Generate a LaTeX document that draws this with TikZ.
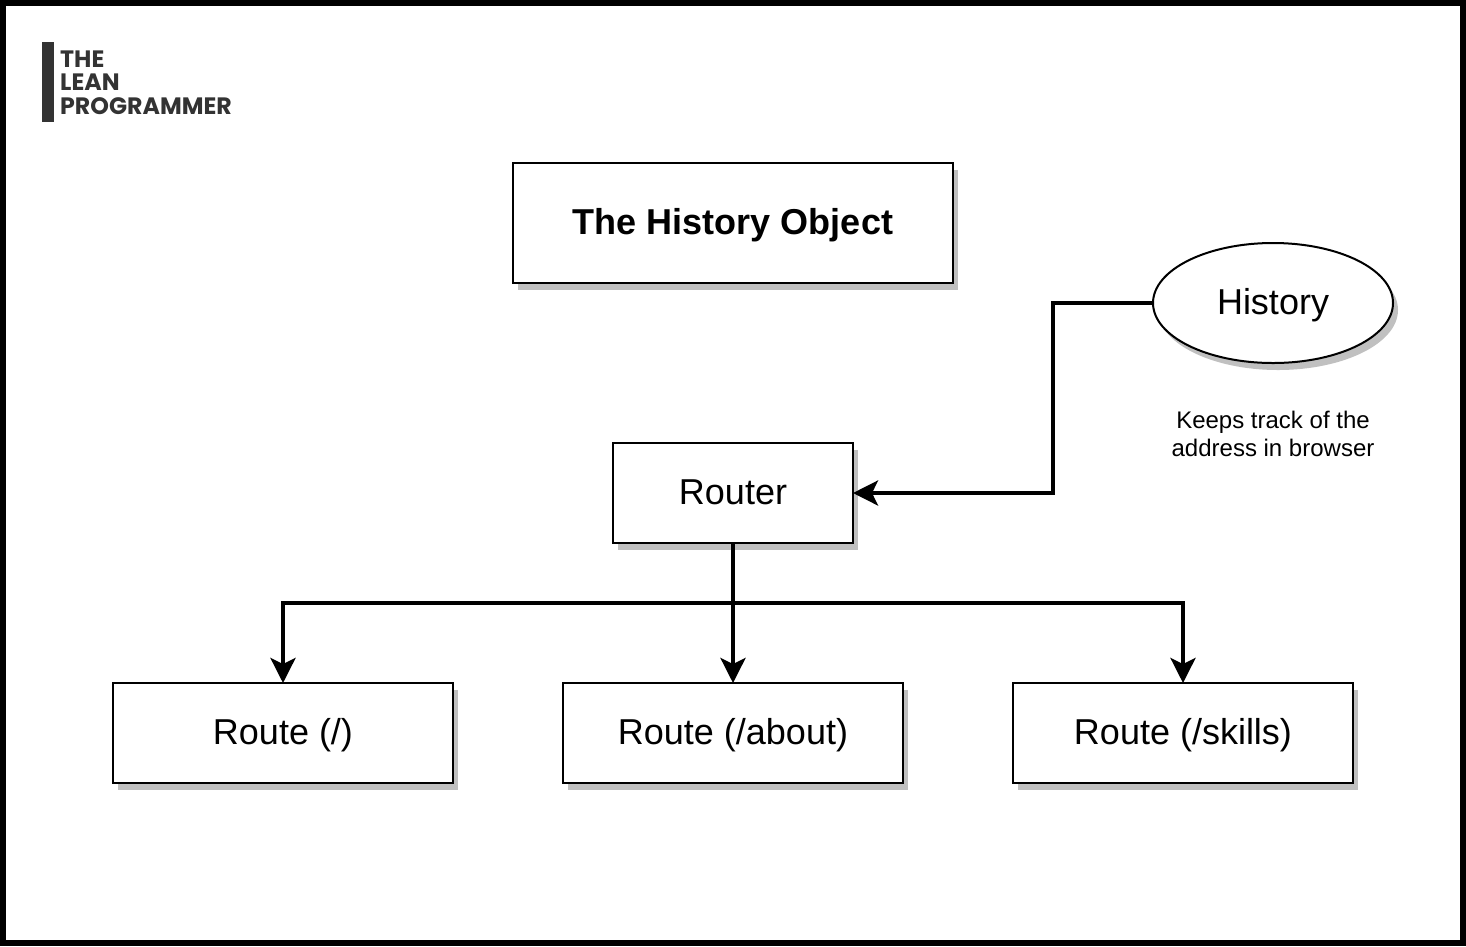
\documentclass[tikz,border=0pt]{standalone}
\usepackage{fontspec}
\setmainfont{Liberation Sans}
\newfontfamily\logofont{Poppins}
\usetikzlibrary{arrows.meta,shadows,shapes.geometric}

\tikzset{
  shade box/.style={draw=black,fill=white,line width=2pt,inner sep=0pt,outer sep=0pt,
    drop shadow={shadow xshift=5pt,shadow yshift=-7pt,fill=shadowgray,opacity=1}},
  big text/.style={font=\fontsize{36}{42}\selectfont,text height=27pt,text depth=5pt},
  link/.style={line width=4pt,-{Stealth[length=25pt,width=25pt,inset=6pt]}}
}
\definecolor{shadowgray}{HTML}{C0C0C0}
\definecolor{logogray}{HTML}{333333}

\begin{document}
\begin{tikzpicture}
    [x=1pt,y=-1pt]
    \useasboundingbox (0,0) rectangle (1466,946);
    \fill[black] (0,0) rectangle (1466,946);
    \fill[white] (6,6) rectangle (1460,940);

    % logo
    \fill[logogray] (42,42) rectangle (54,122);
    \node[anchor=west,inner sep=0pt,align=left,text=logogray,
          font=\logofont\bfseries\fontsize{23.7}{23.7}\selectfont] (logo) at (60,82.5)
          {THE\\LEAN\\PROGRAMMER};

    \node[shade box,big text,minimum width=440pt,minimum height=120pt] (title) at (733,223)
          {\textbf{The History Object}};
    \node[shade box,big text,ellipse,minimum width=240pt,minimum height=120pt] (history) at (1273,303) {History};
    \node[inner sep=0pt,align=center,font=\fontsize{24}{28}\selectfont] (note) at (1273,434)
          {Keeps track of the\\address in browser};
    \node[shade box,big text,minimum width=240pt,minimum height=100pt] (router) at (733,493) {Router};

    \node[shade box,big text,minimum width=340pt,minimum height=100pt] (r1) at (283,733) {Route (/)};
    \node[shade box,big text,minimum width=340pt,minimum height=100pt] (r2) at (733,733) {Route (/about)};
    \node[shade box,big text,minimum width=340pt,minimum height=100pt] (r3) at (1183,733) {Route (/skills)};

    \coordinate (bend) at (1053,303);
    \coordinate (hub) at (733,603);

    \draw [link] (history.west) -- (bend) |- (router.east);
    \draw [link] (router.south) -- (r2.north);
    \draw [link] (router.south) -- (hub) -| (r1.north);
    \draw [link] (router.south) -- (hub) -| (r3.north);
\end{tikzpicture}
\end{document}
